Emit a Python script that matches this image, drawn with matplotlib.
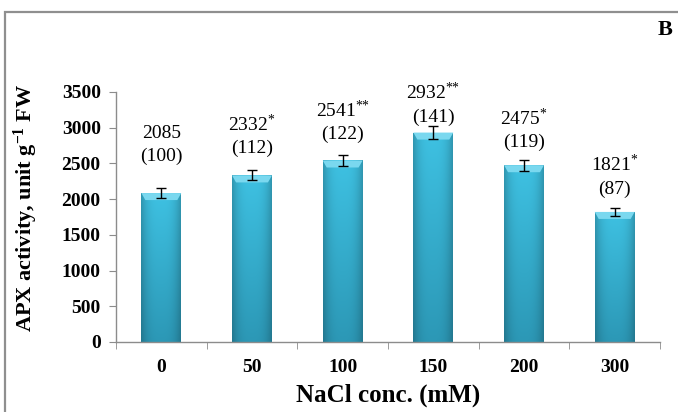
import matplotlib
matplotlib.use("Agg")
import matplotlib.pyplot as plt
import numpy as np
from matplotlib.patches import Polygon, Rectangle

# data
conc_labels = ["0", "50", "100", "150", "200", "300"]
apx_activity = [2085, 2332, 2541, 2932, 2475, 1821]
apx_error = [65, 70, 75, 90, 75, 50]
percent_of_control = [100, 112, 122, 141, 119, 87]
significance = ["", "*", "**", "**", "*", "*"]

# label gap above each bar (pixels), as placed in the original
label_gap_px = [28, 18, 17, 7, 14, 14]

plt.rcParams["font.family"] = ["Liberation Serif", "DejaVu Serif"]
plt.rcParams["mathtext.fontset"] = "custom"
plt.rcParams["mathtext.rm"] = "Liberation Serif"
plt.rcParams["mathtext.default"] = "regular"

W, H = 678, 412
fig = plt.figure(figsize=(W / 100, H / 100), dpi=100)
ax = fig.add_axes([116 / W, 1 - 342 / H, 544 / W, 250 / H])

x = np.arange(len(conc_labels))
bar_w = 0.44
bars = ax.bar(x, apx_activity, width=bar_w, color="#3CBEDF", zorder=2)

# shaded bar faces: slightly darker edges, teal toward the bottom
prof = np.linspace(-1, 1, 64)
horiz = 1 - 0.22 * np.abs(prof) ** 3
top_col = np.array([0x3E, 0xC1, 0xE2]) / 255
bot_col = np.array([0x2C, 0x98, 0xB6]) / 255
t = np.linspace(0, 1, 64)[:, None, None]
col = bot_col * (1 - t) + top_col * t
img = np.clip(col * horiz[None, :, None], 0, 1)
for b in bars:
    x0, w, h = b.get_x(), b.get_width(), b.get_height()
    im = ax.imshow(img, extent=[x0, x0 + w, 0, h], origin="lower",
                   aspect="auto", zorder=2.1, interpolation="bicubic")
    im.set_clip_path(b)
    # light bevel on the top
    inset = w * 0.1
    bh = 3500 * 7 / 250
    ax.add_patch(Polygon([[x0, h], [x0 + w, h], [x0 + w - inset, h - bh],
                          [x0 + inset, h - bh]], closed=True,
                         facecolor="#7AD8EF", edgecolor="none", zorder=2.2))

ax.errorbar(x, apx_activity, yerr=apx_error, fmt="none", ecolor="black",
            elinewidth=1, capsize=3.5, capthick=1, zorder=3)

# two-line labels: value (with significance stars) over % of control
for xi, val, pct, sig, gap in zip(x, apx_activity, percent_of_control,
                                   significance, label_gap_px):
    stars = "".join("{*}" for _ in sig)
    top = f"{val}" + (f"$^{{{stars}}}$" if sig else "")
    ax.annotate(f"{top}\n({pct})", xy=(xi, val), xytext=(0, gap * 0.72),
                textcoords="offset points", ha="center", va="bottom",
                fontsize=14, linespacing=1.4, zorder=4)

ax.set_xlim(-0.5, len(conc_labels) - 0.5)
ax.set_ylim(0, 3500)
ax.set_yticks(np.arange(0, 3501, 500))
ax.set_xticks(x)
ax.set_xticklabels(conc_labels, fontweight="bold", fontsize=14)
ax.set_xticks(np.arange(-0.5, len(conc_labels)), minor=True)
ax.tick_params(axis="x", which="major", length=0, pad=12)
ax.tick_params(axis="x", which="minor", length=5, color="#8c8c8c", direction="out")
ax.tick_params(axis="y", length=5, color="#8c8c8c", direction="out", pad=6,
               labelsize=14)
for lab in ax.get_yticklabels():
    lab.set_fontweight("bold")

for side in ("top", "right"):
    ax.spines[side].set_visible(False)
for side in ("left", "bottom"):
    ax.spines[side].set_color("#8c8c8c")
    ax.spines[side].set_linewidth(1)

ax.set_xlabel("NaCl conc. (mM)", fontweight="bold", fontsize=18, labelpad=6)
fig.text(26 / W, 1 - 208 / H, "APX activity, unit g$^{-1}$ FW", rotation=90,
         fontweight="bold", fontsize=16, ha="center", va="center")
fig.text(665 / W, 1 - 30 / H, "B", fontweight="bold", fontsize=16,
         ha="center", va="center")

# outer frame of the panel
fig.patches.append(Rectangle((5 / W, -0.1), 1.2, 1 - 12 / H + 0.1,
                             transform=fig.transFigure, fill=False,
                             edgecolor="#8f8f8f", linewidth=1.6))

fig.savefig("out.png", dpi=100)
